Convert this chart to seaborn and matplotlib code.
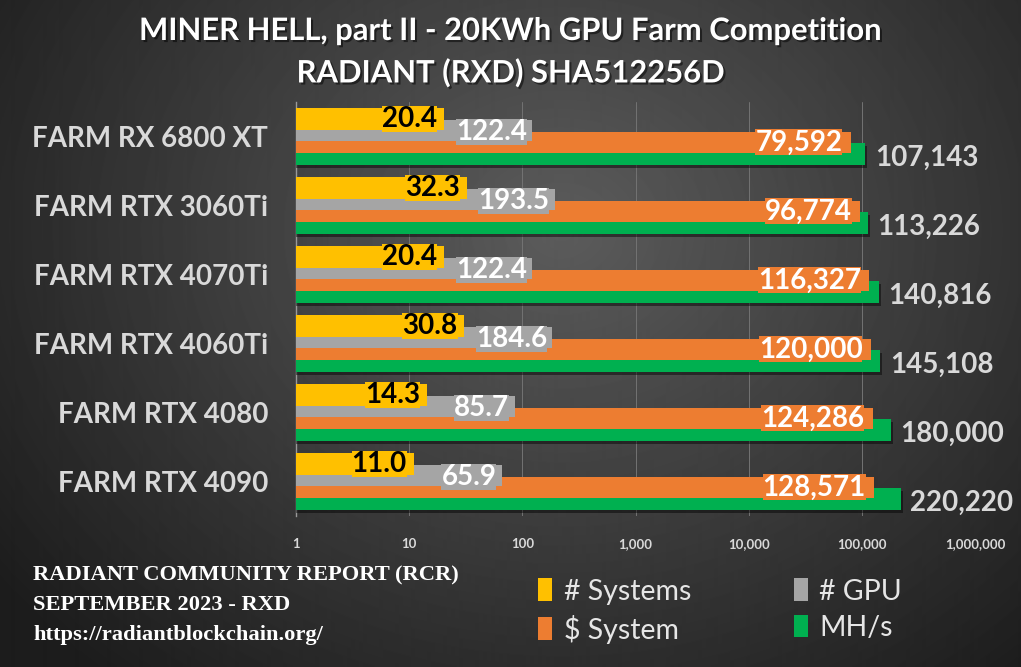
import seaborn as sns
import pandas as pd
import matplotlib.pyplot as plt
import matplotlib.patheffects as pe
from matplotlib.patches import Patch
from matplotlib.ticker import FuncFormatter
import numpy as np

# chart data
farms = ["FARM RX 6800 XT", "FARM RTX 3060Ti", "FARM RTX 4070Ti",
         "FARM RTX 4060Ti", "FARM RTX 4080", "FARM RTX 4090"]
systems = [20.4, 32.3, 20.4, 30.8, 14.3, 11.0]
gpus = [122.4, 193.5, 122.4, 184.6, 85.7, 65.9]
dollar_system = [79592, 96774, 116327, 120000, 124286, 128571]
mhs = [107143, 113226, 140816, 145108, 180000, 220220]

series = ["# Systems", "# GPU", "$ System", "MH/s"]
colors = ["#FFC000", "#A5A5A5", "#ED7D31", "#00B050"]
ticks = [1, 10, 100, 1000, 10000, 100000, 1000000]

rows = []
for name, vals in zip(series, [systems, gpus, dollar_system, mhs]):
    for farm, v in zip(farms, vals):
        rows.append({"farm": farm, "value": v, "series": name})
df = pd.DataFrame(rows)

sns.set_style("dark")
plt.rcParams["font.family"] = ["Lato", "DejaVu Sans"]
plt.rcParams["font.weight"] = "bold"

fig = plt.figure(figsize=(10.21, 6.67), dpi=100)

# radial gradient background
bg = fig.add_axes([0, 0, 1, 1], zorder=-5)
yy, xx = np.mgrid[0:667, 0:1021]
r = np.sqrt(((xx - 560) / 620.0) ** 2 + ((yy - 230) / 520.0) ** 2)
shade = np.clip(0.36 - 0.22 * r, 0.11, 0.36)
bg.imshow(shade, cmap="gray", vmin=0, vmax=1, aspect="auto", interpolation="bilinear")
bg.axis("off")

ax = fig.add_axes([296 / 1021, 1 - 516 / 667, 679 / 1021, 414 / 667])
ax.set_facecolor("none")

sns.barplot(data=df, y="farm", x="value", hue="series", hue_order=series,
            palette=colors, orient="h", width=0.68, dodge=True, gap=0,
            saturation=1, ax=ax, legend=False)
ax.set_xscale("log")
ax.set_xlim(1, 1000000)
ax.set_ylim(5.5, -0.5)

zorders = [6, 5, 4, 3]
shadow = [pe.withSimplePatchShadow(offset=(1.5, -2), shadow_rgbFace="black", alpha=0.45)]
for cont, name, col, z in zip(ax.containers, series, colors, zorders):
    for bar in cont:
        cy = bar.get_y() + bar.get_height() / 2
        bar.set_height(0.31)
        bar.set_y(cy - 0.155)
        bar.set_zorder(z)
        bar.set_edgecolor("none")
        if name == "MH/s":
            bar.set_path_effects(shadow)
        val = bar.get_width()
        if name == "# Systems":
            txt, tc, box, off = f"{val:.1f}", "black", col, (-5, 0)
        elif name == "# GPU":
            txt, tc, box, off = f"{val:.1f}", "white", col, (-4, -1)
        elif name == "$ System":
            txt, tc, box, off = f"{val:,.0f}", "white", col, (-6, 0)
        else:
            txt, tc, box, off = f"{val:,.0f}", "#D9D9D9", None, (7, -3)
        kw = dict(xy=(val, cy), xytext=off, textcoords="offset points",
                  va="center", ha="left" if box is None else "right",
                  color=tc, fontsize=20, fontweight="bold", zorder=10)
        if box is not None:
            kw["bbox"] = dict(boxstyle="square,pad=0.0", fc=box, ec="none")
        ax.annotate(txt, **kw)

ax.set_xticks(ticks)
ax.xaxis.set_major_formatter(FuncFormatter(lambda v, p: f"{v:,.0f}"))
ax.xaxis.set_minor_locator(plt.NullLocator())
ax.tick_params(axis="x", colors="#D9D9D9", labelsize=9.5, length=0, pad=16)
ax.tick_params(axis="y", colors="#D9D9D9", labelsize=20, length=0, pad=20)
for lab in ax.get_xticklabels() + ax.get_yticklabels():
    lab.set_fontweight("bold")
ax.set_xlabel("")
ax.set_ylabel("")
ax.grid(axis="x", color="#737373", linewidth=0.7)
ax.grid(axis="y", visible=False)
ax.set_axisbelow(True)
for s in ["top", "right", "bottom"]:
    ax.spines[s].set_visible(False)
ax.spines["left"].set_color("#9A9A9A")
ax.spines["left"].set_linewidth(1)

tshadow = [pe.withSimplePatchShadow(offset=(1.5, -1.5), shadow_rgbFace="black", alpha=0.5)]
fig.text(0.5, 1 - 31 / 667, "MINER HELL, part II - 20KWh GPU Farm Competition",
         ha="center", va="center", color="white", fontsize=22.3, fontweight="bold",
         path_effects=tshadow)
fig.text(0.5, 1 - 73 / 667, "RADIANT (RXD) SHA512256D",
         ha="center", va="center", color="white", fontsize=22.3, fontweight="bold",
         path_effects=tshadow)

footer = ["RADIANT COMMUNITY REPORT (RCR)", "SEPTEMBER 2023 - RXD",
          "https://radiantblockchain.org/"]
for i, line in enumerate(footer):
    fig.text(33 / 1021, 1 - (575 + 30 * i) / 667, line, ha="left", va="center",
             color="white", fontsize=16.2, fontweight="bold",
             family=["Liberation Serif", "DejaVu Serif"])

handles = [Patch(fc=c, ec="none") for c in colors]
order = [0, 2, 1, 3]
leg = fig.legend([handles[i] for i in order], [series[i].replace("$", r"\$") for i in order],
                 ncol=2, loc="center", bbox_to_anchor=(720 / 1021, 1 - 611 / 667),
                 frameon=False, fontsize=20.5, handlelength=0.5, handleheight=0.85,
                 handletextpad=0.4, columnspacing=3.6, labelspacing=0.35)
for t in leg.get_texts():
    t.set_color("#E6E6E6")
    t.set_fontweight("normal")

fig.savefig("out.png", dpi=100)
